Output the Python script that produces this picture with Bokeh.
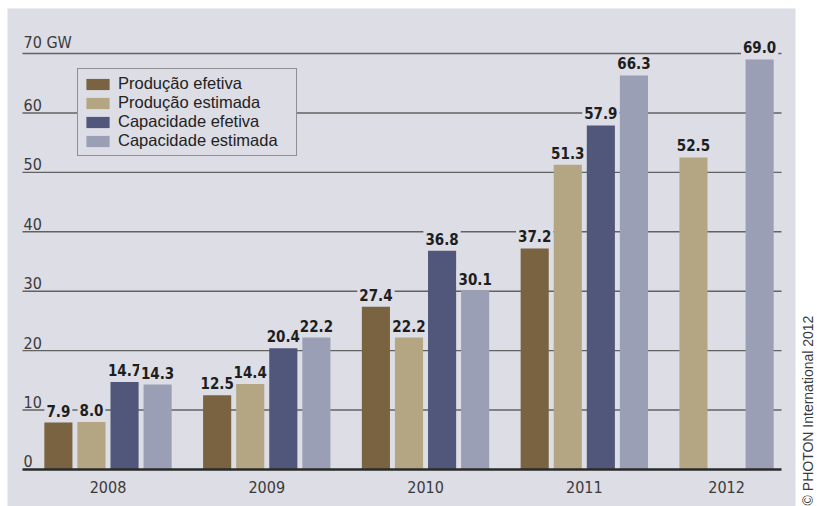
import math
from bokeh.plotting import figure
from bokeh.models import (FactorRange, Range1d, ColumnDataSource, Legend, LegendItem,
                          LinearScale)
from bokeh.embed import file_html
from bokeh.resources import INLINE
from bokeh.core.properties import value

# ---------------- data ----------------
years = ["2008", "2009", "2010", "2011", "2012"]
series = ["Produção efetiva", "Produção estimada", "Capacidade efetiva", "Capacidade estimada"]
producao_efetiva = [7.9, 12.5, 27.4, 37.2, None]
producao_estimada = [8.0, 14.4, 22.2, 51.3, 52.5]
capacidade_efetiva = [14.7, 20.4, 36.8, 57.9, None]
capacidade_estimada = [14.3, 22.2, 30.1, 66.3, 69.0]
y_ticks = [0, 10, 20, 30, 40, 50, 60, 70]
y_tick_labels = ["0", "10", "20", "30", "40", "50", "60", "70 GW"]
credit = "© PHOTON International 2012"

# ---------------- style ----------------
colors = ["#7a6340", "#b5a683", "#51577a", "#9b9fb5"]
BG = "#dcdde5"
COND = "DejaVu Sans Condensed, Roboto, sans-serif"
W, H = 817, 506
GROUP_PAD = 0.8
RANGE_PAD = 1.25   # applied on each side

values = [producao_efetiva, producao_estimada, capacidade_efetiva, capacidade_estimada]

# factors: per year, trim empty slots at the group edges, keep interior gaps
factors = []
for i, yr in enumerate(years):
    present = [j for j in range(len(series)) if values[j][i] is not None]
    lo, hi = min(present), max(present)
    factors += [(yr, series[j]) for j in range(lo, hi + 1)]

x_range = FactorRange(factors=factors, group_padding=GROUP_PAD,
                      range_padding=RANGE_PAD, range_padding_units="absolute")
y_range = Range1d(-6.23, 78.92)

# synthetic x coordinate of a horizontal pixel position (frame == canvas)
_syn_start = -RANGE_PAD
_syn_span = len(factors) + (len(years) - 1) * GROUP_PAD + 2 * RANGE_PAD
def xpx(px):
    return _syn_start + px / W * _syn_span

p = figure(width=W, height=H, x_range=x_range, y_range=y_range,
           output_backend="svg", toolbar_location=None,
           x_axis_location=None, y_axis_location=None,
           min_border=0, min_border_left=0, min_border_right=0,
           min_border_top=0, min_border_bottom=0)
p.title.visible = False
p.grid.visible = False
p.outline_line_color = None
p.background_fill_color = "white"
p.border_fill_color = "white"

# pixel-like helper y range for the decorative panel and credit
p.extra_y_ranges = {"py": Range1d(H, 0)}
p.extra_y_scales = {"py": LinearScale()}

# grey panel
p.quad(left=[xpx(7)], right=[xpx(795)], top=[8], bottom=[H], y_range_name="py",
       fill_color=BG, line_color=None)

# horizontal grid lines (from tick values)
grid_vals = [t for t in y_ticks if t != 0]
p.segment(x0=[xpx(22)] * len(grid_vals), x1=[xpx(781)] * len(grid_vals),
          y0=grid_vals, y1=grid_vals, line_color="#626262", line_width=1.4)

# y tick labels, left aligned above each line
p.text(x=[xpx(23)] * len(y_ticks), y=y_ticks, text=y_tick_labels,
       text_font=value(COND), text_font_size="16px", text_color="#3a3a3a",
       text_align="left", text_baseline="bottom", y_offset=-2)

# bars
legend_items = []
for j, s in enumerate(series):
    xs, tops, labels = [], [], []
    for i, yr in enumerate(years):
        v = values[j][i]
        if v is None:
            continue
        xs.append((yr, s))
        tops.append(v)
        labels.append(f"{v:.1f}")
    src = ColumnDataSource(dict(x=xs, top=tops, label=labels))
    r = p.vbar(x="x", top="top", bottom=0, width=0.85, source=src,
               fill_color=colors[j], line_color=None)
    legend_items.append(LegendItem(label=s, renderers=[r]))
    p.text(x="x", y="top", text="label", source=src,
           text_font=value(COND), text_font_style="bold", text_font_size="15px",
           text_color="#1e1e1e", text_align="center", text_baseline="bottom",
           y_offset=-4, background_fill_color=BG, padding=2)

# baseline
p.segment(x0=[xpx(22)], x1=[xpx(781)], y0=[0], y1=[0],
          line_color="#2a2a2a", line_width=2.6)

# year labels
p.text(x=years, y=[0] * len(years), text=years,
       text_font=value(COND), text_font_size="16px", text_color="#3a3a3a",
       text_align="center", text_baseline="middle", y_offset=18)

# credit text (rotated)
p.text(x=[xpx(808)], y=[410], text=[credit], y_range_name="py",
       angle=math.pi / 2, text_font=value("Liberation Sans"), text_font_size="14px",
       text_color="#3a3a3a", text_align="center", text_baseline="middle")

legend = Legend(items=legend_items, location=(77, 350),
                glyph_width=29, glyph_height=14, label_height=14, label_width=173,
                label_standoff=6, spacing=0, padding=5,
                label_text_font="Liberation Sans", label_text_font_size="16.5px",
                label_text_color="#222222",
                border_line_color="#444444", border_line_width=1,
                background_fill_color=BG, background_fill_alpha=1.0)
p.add_layout(legend, "center")

open("out.html", "w").write(file_html(p, INLINE))
